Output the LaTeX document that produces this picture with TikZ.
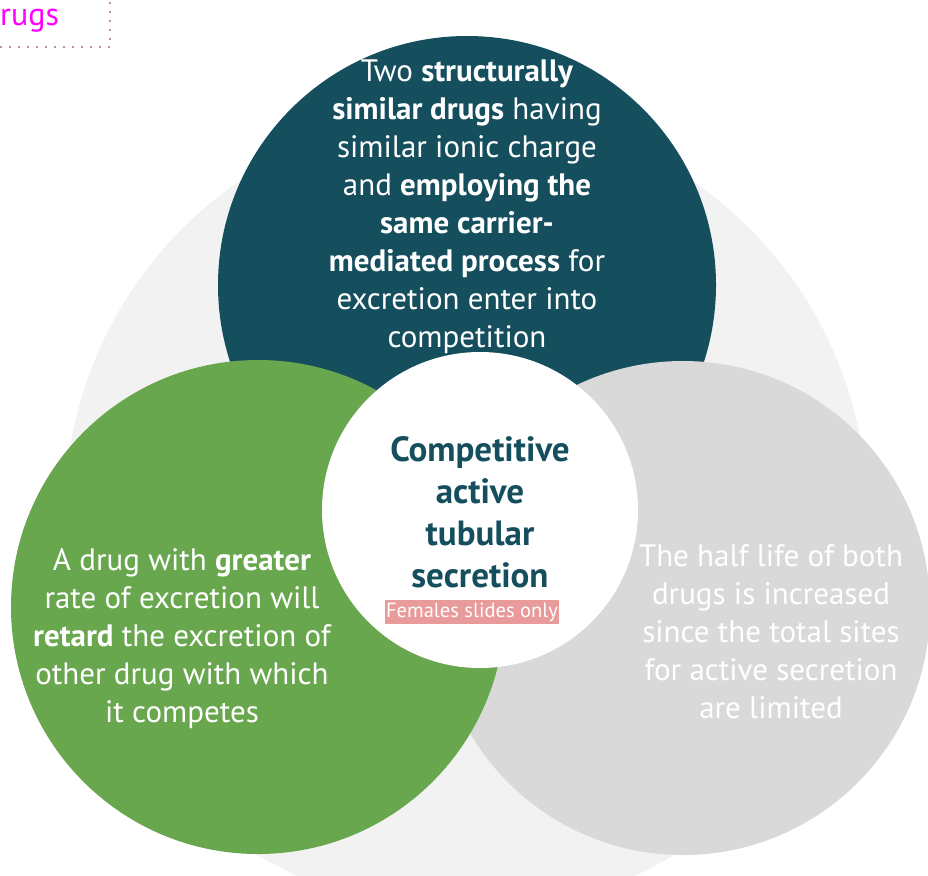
\documentclass[tikz,border=0pt]{standalone}
\usepackage{fontspec}
\setmainfont{PT Sans}
\definecolor{teal}{HTML}{154F5E}
\definecolor{leaf}{HTML}{69A74E}
\definecolor{silver}{HTML}{D9D9D9}
\definecolor{haze}{HTML}{F2F2F2}
\definecolor{tagpink}{HTML}{E99A9A}
\definecolor{dotpink}{HTML}{C58BAE}
\definecolor{magent}{HTML}{FF00FF}
\tikzset{
  disc/.style={circle, inner sep=0pt, minimum size=#1},
  body/.style={align=center, inner sep=0pt, font=\fontsize{31}{38}\selectfont},
  title/.style={align=center, inner sep=0pt, text=teal, font=\bfseries\fontsize{35}{42}\selectfont},
}
\begin{document}
\begin{tikzpicture}[x=1pt, y=-1pt]
\useasboundingbox (0,0) rectangle (928,875);
\clip (0,0) rectangle (928,875);
% soft background disc
\node[disc=802pt, fill=haze] (back) at (466,512) {};
% three overlapping discs
\node[disc=498pt, fill=teal] (top) at (467,285) {};
\node[disc=494pt, fill=silver] (right) at (683,608) {};
\node[disc=494pt, fill=leaf] (left) at (258,607) {};
% central disc
\node[disc=316pt, fill=white] (core) at (480,510) {};

% texts
\node[body, text=white] (toptext) at (467,207) {Two \textbf{structurally}\\
\textbf{similar drugs} having\\
similar ionic charge\\
and \textbf{employing the}\\
\textbf{same carrier-}\\
\textbf{mediated process} for\\
excretion enter into\\
competition};
\node[body, text=white] (lefttext) at (182,639) {A drug with \textbf{greater}\\
rate of excretion will\\
\textbf{retard} the excretion of\\
other drug with which\\
it competes};
\node[body, text=white] (righttext) at (771,632) {The half life of both\\
drugs is increased\\
since the total sites\\
for active secretion\\
are limited};
\node[title] (coretext) at (480,512) {Competitive\\active\\tubular\\secretion};
\node[fill=tagpink, text=white, inner xsep=1pt, inner ysep=2.5pt,
      font=\fontsize{20.5}{23}\selectfont] (tag) at (472,612) {Females slides only};

% corner label
\node[anchor=west, inner sep=0pt, text=magent, font=\fontsize{32}{36}\selectfont] (corner) at (0,21) {rugs};
\coordinate (c1) at (0,47);
\coordinate (c2) at (110,47);
\coordinate (c3) at (110,0);
\draw[dotpink, line width=1.8pt, dash pattern=on 1.8pt off 7.2pt] (c1) -- (c2) -- (c3);
\end{tikzpicture}
\end{document}
